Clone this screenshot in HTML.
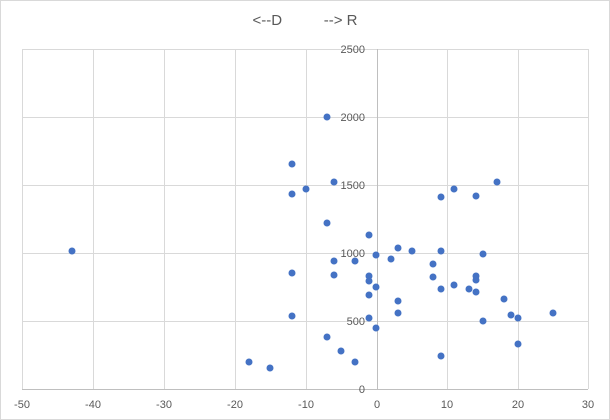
<!DOCTYPE html>
<html><head><meta charset="utf-8"><style>
body{margin:0;background:#fff}
svg{display:block}
text{font-family:"Liberation Sans",sans-serif;fill:#595959}
</style></head><body>
<svg width="610" height="420" viewBox="0 0 610 420">
<rect x="0.5" y="0.5" width="609" height="419" fill="#fff" stroke="#d9d9d9"/>
<text x="305" y="25" font-size="15" text-anchor="middle" xml:space="preserve">&lt;--D          --&gt; R</text>
<g stroke="#d9d9d9" stroke-width="1">
<line x1="22" y1="49.5" x2="588" y2="49.5"/>
<line x1="22" y1="117.5" x2="588" y2="117.5"/>
<line x1="22" y1="185.5" x2="588" y2="185.5"/>
<line x1="22" y1="253.5" x2="588" y2="253.5"/>
<line x1="22" y1="321.5" x2="588" y2="321.5"/>
<line x1="22.5" y1="49" x2="22.5" y2="389"/>
<line x1="93.5" y1="49" x2="93.5" y2="389"/>
<line x1="164.5" y1="49" x2="164.5" y2="389"/>
<line x1="235.5" y1="49" x2="235.5" y2="389"/>
<line x1="306.5" y1="49" x2="306.5" y2="389"/>
<line x1="447.5" y1="49" x2="447.5" y2="389"/>
<line x1="518.5" y1="49" x2="518.5" y2="389"/>
<line x1="588.5" y1="49" x2="588.5" y2="389"/>
</g>
<g stroke="#bfbfbf"><line x1="22" y1="389.5" x2="588" y2="389.5"/><line x1="377.5" y1="49" x2="377.5" y2="389"/></g>
<g font-size="11" text-anchor="end">
<text x="365" y="53">2500</text><text x="365" y="121">2000</text><text x="365" y="189">1500</text>
<text x="365" y="257">1000</text><text x="365" y="325">500</text><text x="365" y="393">0</text>
</g>
<g font-size="11" text-anchor="middle">
<text x="22" y="408">-50</text><text x="93" y="408">-40</text><text x="164" y="408">-30</text><text x="235" y="408">-20</text>
<text x="306" y="408">-10</text><text x="377" y="408">0</text><text x="447" y="408">10</text><text x="518" y="408">20</text><text x="588" y="408">30</text>
</g>
<g fill="#4472c4">
<circle cx="72" cy="251" r="3.5"/><circle cx="327" cy="117" r="3.5"/><circle cx="292" cy="164" r="3.5"/>
<circle cx="292" cy="194" r="3.5"/><circle cx="334" cy="182" r="3.5"/><circle cx="306" cy="189" r="3.5"/>
<circle cx="454" cy="189" r="3.5"/><circle cx="497" cy="182" r="3.5"/><circle cx="441" cy="197" r="3.5"/>
<circle cx="476" cy="196" r="3.5"/><circle cx="327" cy="223" r="3.5"/><circle cx="369" cy="235" r="3.5"/>
<circle cx="376" cy="255" r="3.5"/><circle cx="398" cy="248" r="3.5"/><circle cx="412" cy="251" r="3.5"/>
<circle cx="391" cy="259" r="3.5"/><circle cx="355" cy="261" r="3.5"/><circle cx="334" cy="261" r="3.5"/>
<circle cx="334" cy="275" r="3.5"/><circle cx="292" cy="273" r="3.5"/><circle cx="369" cy="276" r="3.5"/>
<circle cx="369" cy="281" r="3.5"/><circle cx="376" cy="287" r="3.5"/><circle cx="369" cy="295" r="3.5"/>
<circle cx="433" cy="264" r="3.5"/><circle cx="441" cy="251" r="3.5"/><circle cx="483" cy="254" r="3.5"/>
<circle cx="433" cy="277" r="3.5"/><circle cx="441" cy="289" r="3.5"/><circle cx="454" cy="285" r="3.5"/>
<circle cx="469" cy="289" r="3.5"/><circle cx="476" cy="276" r="3.5"/><circle cx="476" cy="280" r="3.5"/>
<circle cx="476" cy="292" r="3.5"/><circle cx="504" cy="299" r="3.5"/><circle cx="511" cy="315" r="3.5"/>
<circle cx="518" cy="318" r="3.5"/><circle cx="553" cy="313" r="3.5"/><circle cx="483" cy="321" r="3.5"/>
<circle cx="398" cy="301" r="3.5"/><circle cx="398" cy="313" r="3.5"/><circle cx="369" cy="318" r="3.5"/>
<circle cx="376" cy="328" r="3.5"/><circle cx="292" cy="316" r="3.5"/><circle cx="327" cy="337" r="3.5"/>
<circle cx="341" cy="351" r="3.5"/><circle cx="355" cy="362" r="3.5"/><circle cx="249" cy="362" r="3.5"/>
<circle cx="270" cy="368" r="3.5"/><circle cx="441" cy="356" r="3.5"/><circle cx="518" cy="344" r="3.5"/>
</g>
</svg>
</body></html>
